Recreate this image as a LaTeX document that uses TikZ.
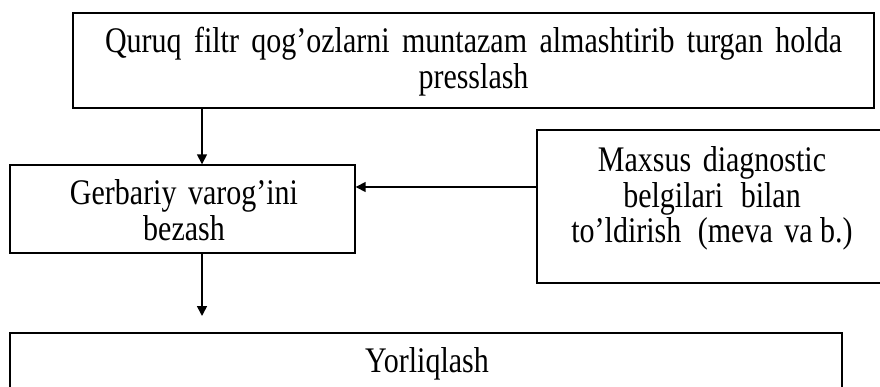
\documentclass[tikz,border=0pt]{standalone}
\usepackage{fontspec}
\setmainfont{Liberation Serif}
\usepackage{graphicx}
\usetikzlibrary{arrows.meta}
\newcommand\boxtext[1]{\scalebox{1}[1.2]{\begin{tabular}[t]{@{}c@{}}#1\end{tabular}}}
\tikzset{
  boxnode/.style={draw=black, line width=1.4pt, inner sep=0pt, rectangle},
  txt/.style={inner sep=0pt, anchor=base, font=\fontsize{30}{28.4}\selectfont},
  arr/.style={line width=1.6pt, -{Triangle[length=10pt,width=10pt]}},
}
\begin{document}
\begin{tikzpicture}[x=1pt,y=-1pt]
\useasboundingbox (0,0) rectangle (880,387);
% boxes
\node[boxnode, minimum width=801pt, minimum height=95pt] (b1) at (473.5,60.5) {};
\node[boxnode, minimum width=345pt, minimum height=88pt] (b2) at (182.5,209) {};
\node[boxnode, minimum width=352pt, minimum height=153pt] (b3) at (713,206.5) {};
\node[boxnode, minimum width=832pt, minimum height=67pt] (b4) at (426,366.5) {};
% texts
\node[txt] (t1) at (473.5,53) {\boxtext{\makebox[737pt][s]{Quruq filtr qog’ozlarni muntazam almashtirib turgan holda}\hspace{10pt}\\presslash}};
\node[txt] (t2) at (184,205) {\boxtext{Gerbariy\hspace{4pt} varog’ini\\bezash}};
\node[txt, font=\fontsize{30}{29.2}\selectfont] (t3) at (712,172) {\boxtext{Maxsus\hspace{4pt} diagnostic\\belgilari\hspace{10pt} bilan\\to’ldirish\hspace{9pt} (meva\hspace{4pt} va b.)}};
\node[txt] (t4) at (427,372.7) {\boxtext{Yorliqlash}};
% connectors
\coordinate (ax) at (202,0);
\coordinate (ay) at (0,187);
\coordinate (e3) at (202,316);
\draw[arr] (b1.south -| ax) -- (b2.north -| ax);
\draw[arr] (b3.west |- ay) -- (b2.east |- ay);
\draw[arr] (b2.south -| ax) -- (e3);
\end{tikzpicture}
\end{document}
